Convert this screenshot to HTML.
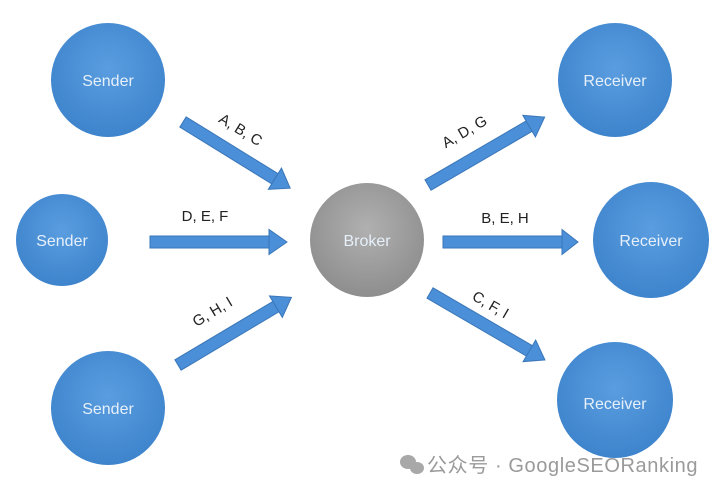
<!DOCTYPE html>
<html><head><meta charset="utf-8"><style>
html,body{margin:0;padding:0;background:#fff;}
svg{display:block;}
text{font-family:"Liberation Sans","Noto Sans CJK SC",sans-serif;}
</style></head><body>
<svg width="726" height="494" viewBox="0 0 726 494">
<defs>
<radialGradient id="b" cx="50%" cy="40%" r="60%"><stop offset="0" stop-color="#5a9de0"/><stop offset="1" stop-color="#3e84cc"/></radialGradient>
<radialGradient id="g" cx="50%" cy="40%" r="60%"><stop offset="0" stop-color="#b0b0b0"/><stop offset="1" stop-color="#8e8e8e"/></radialGradient>
</defs>
<g fill="url(#b)">
<circle cx="108" cy="80" r="57"/>
<circle cx="62" cy="240" r="46"/>
<circle cx="108" cy="408" r="57"/>
<circle cx="615" cy="80" r="57"/>
<circle cx="651" cy="240" r="58"/>
<circle cx="615" cy="400" r="58"/>
</g>
<circle cx="367" cy="240" r="57" fill="url(#g)"/>
<g font-size="16" fill="#e6f0fa" text-anchor="middle">
<text x="108" y="86">Sender</text>
<text x="62" y="246">Sender</text>
<text x="108" y="414">Sender</text>
<text x="615" y="86">Receiver</text>
<text x="651" y="246">Receiver</text>
<text x="615" y="409">Receiver</text>
<text x="367" y="246">Broker</text>
</g>
<g fill="#4a8fd8" stroke="#3a76b8" stroke-width="1">
<g transform="translate(183,122) rotate(31.7)"><rect x="0" y="-6" width="110" height="12"/><polygon points="126,0 108,-12.5 108,12.5"/></g>
<g transform="translate(150,242)"><rect x="0" y="-6" width="121" height="12"/><polygon points="137,0 119,-12.5 119,12.5"/></g>
<g transform="translate(178,365) rotate(-30.8)"><rect x="0" y="-6" width="116" height="12"/><polygon points="132,0 114,-12.5 114,12.5"/></g>
<g transform="translate(428,185) rotate(-30.2)"><rect x="0" y="-6" width="119" height="12"/><polygon points="135,0 117,-12.5 117,12.5"/></g>
<g transform="translate(443,242)"><rect x="0" y="-6" width="121" height="12"/><polygon points="135,0 119,-12.5 119,12.5"/></g>
<g transform="translate(430,293) rotate(30.2)"><rect x="0" y="-6" width="117" height="12"/><polygon points="133,0 115,-12.5 115,12.5"/></g>
</g>
<g font-size="15" fill="#222" text-anchor="middle">
<text transform="translate(238,134) rotate(31.7)">A, B, C</text>
<text x="205" y="221">D, E, F</text>
<text transform="translate(215,316) rotate(-30.8)">G, H, I</text>
<text transform="translate(467,136) rotate(-30.2)">A, D, G</text>
<text x="505" y="223">B, E, H</text>
<text transform="translate(488,309) rotate(30.2)">C, F, I</text>
</g>
<g fill="#a8a8a8">
<ellipse cx="408" cy="462" rx="8" ry="7"/><ellipse cx="417" cy="468" rx="7" ry="6"/>
</g>
<text x="427" y="472" font-size="20" letter-spacing="0.6" fill="#9a9a9a">公众号 · GoogleSEORanking</text>
</svg>
</body></html>
